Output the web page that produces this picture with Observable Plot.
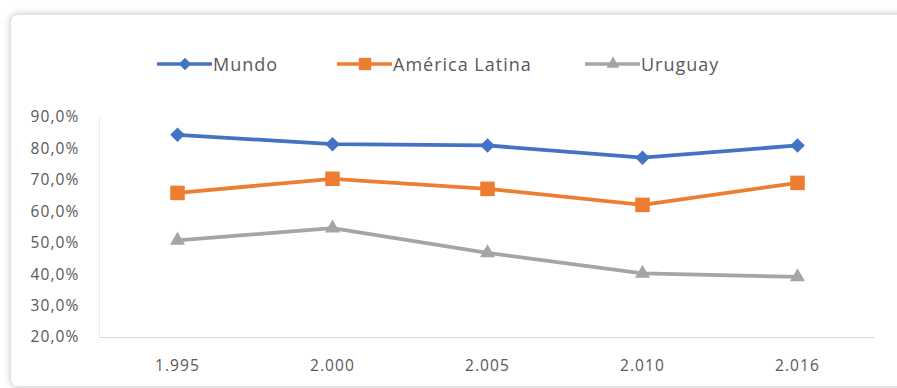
<!DOCTYPE html>
<html>
<head>
<meta charset="utf-8">
<script src="https://cdn.jsdelivr.net/npm/d3@7"></script>
<script src="https://cdn.jsdelivr.net/npm/@observablehq/plot@0.6"></script>
<style>
  html, body { margin: 0; padding: 0; background: #ffffff; width: 897px; height: 388px; overflow: hidden; font-family: "Open Sans", sans-serif; }
  #card { position: absolute; left: 10px; top: 14px; width: 920px; height: 371px; background: #fff;
          border: 1px solid #e2e2e2; border-radius: 8px; box-shadow: 0 0 7px rgba(0,0,0,0.22); }
  #legend { position: absolute; left: 0; top: 52px; width: 897px; height: 24px; }
  .item { position: absolute; top: 0; height: 24px; display: flex; align-items: center; }
  .item span { font-size: 18px; color: #595959; letter-spacing: 1px; margin-left: 1px; }
  #chart { position: absolute; left: 0; top: 90px; }
</style>
</head>
<body>
<div id="card"></div>
<div id="legend"></div>
<div id="chart"></div>
<script>
const years = ["1.995", "2.000", "2.005", "2.010", "2.016"];
const mundo = [84.5, 81.5, 81.1, 77.2, 81.1];
const americaLatina = [66.0, 70.5, 67.3, 62.2, 69.2];
const uruguay = [50.9, 54.8, 46.9, 40.4, 39.3];
const seriesNames = ["Mundo", "América Latina", "Uruguay"];
const seriesValues = [mundo, americaLatina, uruguay];
const seriesColors = ["#4472C4", "#ED7D31", "#A5A5A5"];
const seriesSymbols = ["diamond2", "square", "triangle"];
const symbolRadius = [6.6, 8.2, 5.6];
const yTicks = [20, 30, 40, 50, 60, 70, 80, 90];

const rows = seriesNames.flatMap((s, i) => years.map((y, j) => ({series: s, year: y, value: seriesValues[i][j]})));

const marks = [
  Plot.ruleY([20], {stroke: "#d9d9d9", strokeWidth: 1}),
  Plot.frame({anchor: "left", stroke: "#ececec", strokeWidth: 1})
];
seriesNames.forEach((s, i) => {
  const d = rows.filter(r => r.series === s);
  marks.push(Plot.line(d, {x: "year", y: "value", stroke: seriesColors[i], strokeWidth: 3.8}));
  marks.push(Plot.dot(d, {x: "year", y: "value", symbol: () => seriesSymbols[i], fill: seriesColors[i], r: symbolRadius[i], stroke: "none"}));
});

const chart = Plot.plot({
  width: 897,
  height: 298,
  marginTop: 27,
  marginBottom: 51,
  marginLeft: 99,
  marginRight: 22,
  style: {fontFamily: "Open Sans, sans-serif", fontSize: "15.5px", color: "#595959", background: "transparent", letterSpacing: "1.1px"},
  x: {type: "point", domain: years, padding: 0.5, label: null, tickSize: 0, tickPadding: 22},
  y: {domain: [20, 90], ticks: yTicks, tickFormat: d => d.toFixed(1).replace(".", ",") + "%", tickSize: 0, tickPadding: 20, label: null},
  symbol: {domain: seriesSymbols, range: seriesSymbols},
  marks
});
document.getElementById("chart").appendChild(chart);

// Legend
const legendX = [157, 337, 585];
const legend = document.getElementById("legend");
const symbolTypes = {diamond2: d3.symbolDiamond2, square: d3.symbolSquare, triangle: d3.symbolTriangle};
seriesNames.forEach((s, i) => {
  const item = document.createElement("div");
  item.className = "item";
  item.style.left = legendX[i] + "px";
  const svg = d3.create("svg").attr("width", 55).attr("height", 24);
  svg.append("line").attr("x1", 0).attr("x2", 55).attr("y1", 12).attr("y2", 12)
     .attr("stroke", seriesColors[i]).attr("stroke-width", 3.6);
  const r = symbolRadius[i] * 0.85;
  svg.append("path").attr("transform", "translate(28,12)")
     .attr("d", d3.symbol(symbolTypes[seriesSymbols[i]], Math.PI * r * r)())
     .attr("fill", seriesColors[i]);
  item.appendChild(svg.node());
  const t = document.createElement("span");
  t.textContent = s;
  item.appendChild(t);
  legend.appendChild(item);
});
</script>
</body>
</html>
